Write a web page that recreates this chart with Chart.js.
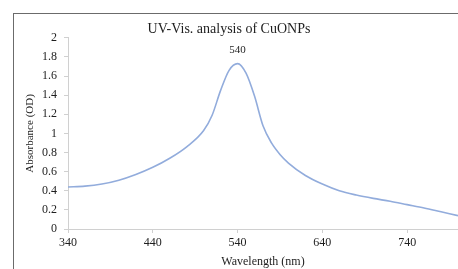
<!DOCTYPE html>
<html>
<head>
<meta charset="utf-8">
<script src="https://cdn.jsdelivr.net/npm/chart.js@4.4.1/dist/chart.umd.min.js"></script>
<style>
    html, body { margin: 0; padding: 0; background: #fff; }
    #wrap { position: relative; width: 458px; height: 269px; overflow: hidden; }
    #frame { position: absolute; left: 13px; top: 13px; width: 520px; height: 320px; border: 1px solid #6b6b6b; }
    #chart { position: absolute; left: 0; top: 0; }
</style>
</head>
<body>
<div id="wrap">
    <div id="frame"></div>
    <canvas id="chart" width="458" height="269"></canvas>
</div>
<script>
// Spectrum
const wavelengths = [340, 360, 380, 400, 420, 440, 460, 480, 500, 510, 520, 530, 540, 550, 560, 570, 580, 590, 600, 620, 640, 660, 680, 700, 720, 740, 760, 780, 800];
const absorbance  = [0.44, 0.448, 0.47, 0.51, 0.57, 0.645, 0.74, 0.86, 1.03, 1.19, 1.45, 1.66, 1.73, 1.63, 1.39, 1.08, 0.90, 0.78, 0.69, 0.56, 0.47, 0.40, 0.355, 0.32, 0.29, 0.255, 0.22, 0.18, 0.14];
const xTicks = [340, 440, 540, 640, 740];
const peakLabel = "540";
const peakIndex = 12;

const serif = "'Liberation Serif', 'Times New Roman', serif";
const axisGray = "#d0d0d0";
const textColor = "#1e1e1e";

// Draws the peak label above the maximum
const peakLabelPlugin = {
    id: "peakLabel",
    afterDatasetsDraw(chart) {
        const pt = chart.getDatasetMeta(0).data[peakIndex];
        const ctx = chart.ctx;
        ctx.save();
        ctx.font = "11px " + serif;
        ctx.fillStyle = textColor;
        ctx.textAlign = "center";
        ctx.textBaseline = "middle";
        ctx.fillText(peakLabel, pt.x, pt.y - 14);
        ctx.restore();
    }
};

new Chart(document.getElementById("chart"), {
    type: "line",
    data: {
        datasets: [{
            data: wavelengths.map((w, i) => ({ x: w, y: absorbance[i] })),
            borderColor: "#92acdc",
            borderWidth: 1.6,
            pointRadius: 0,
            fill: false,
            cubicInterpolationMode: "monotone"
        }]
    },
    options: {
        responsive: false,
        animation: false,
        layout: { padding: { left: 0, right: 0, top: 0, bottom: 0 } },
        plugins: {
            legend: { display: false },
            tooltip: { enabled: false },
            title: {
                display: true,
                text: "UV-Vis. analysis of CuONPs",
                color: textColor,
                font: { family: serif, size: 14, weight: "normal" },
                padding: { top: 21, bottom: 0 }
            }
        },
        scales: {
            x: {
                type: "linear",
                min: 340,
                max: 800,
                afterBuildTicks: scale => { scale.ticks = xTicks.map(v => ({ value: v })); },
                afterFit: scale => { scale.height = 40; },
                grid: { drawOnChartArea: false, color: axisGray, tickLength: 4 },
                border: { color: axisGray },
                ticks: { color: textColor, font: { family: serif, size: 12 }, padding: 3, maxRotation: 0 },
                title: {
                    display: true,
                    text: "Wavelength (nm)",
                    color: textColor,
                    font: { family: serif, size: 12 },
                    padding: { top: 0, bottom: 0 }
                }
            },
            y: {
                min: 0,
                max: 2,
                afterFit: scale => { scale.width = 68; },
                grid: { drawOnChartArea: false, color: axisGray, tickLength: 4 },
                border: { color: axisGray },
                ticks: {
                    stepSize: 0.2,
                    color: textColor,
                    font: { family: serif, size: 12 },
                    padding: 7,
                    callback: v => String(Number(v.toFixed(1)))
                },
                title: {
                    display: true,
                    text: "Absorbance (OD)",
                    color: textColor,
                    font: { family: serif, size: 11 },
                    padding: { top: 24, bottom: 0 }
                }
            }
        }
    },
    plugins: [peakLabelPlugin]
});
</script>
</body>
</html>
